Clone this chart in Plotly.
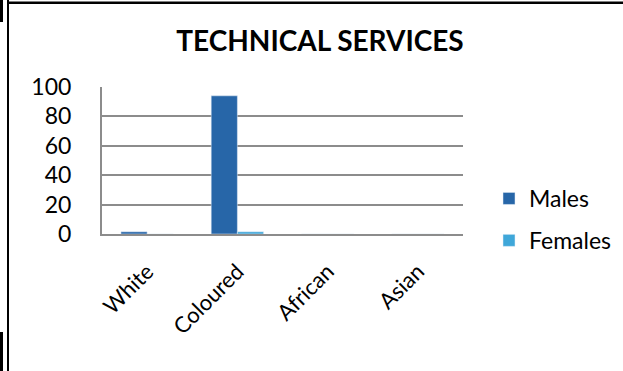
import plotly.graph_objects as go

categories = ["White", "Coloured", "African", "Asian"]
males = [1.5, 94, 0, 0]
females = [0, 1.5, 0, 0]

W, H = 623, 371
L, R, T, B = 102, 463, 87, 234   # plot area in pixels

def px(x):
    return (x - L) / (R - L)

def py(y):
    return (B - y) / (B - T)

font_family = "Lato, 'Open Sans', sans-serif"

fig = go.Figure()
fig.add_trace(go.Bar(name="Males", x=categories, y=males, legendgroup="m",
                     marker=dict(color="#2766A8")))
fig.add_trace(go.Bar(name="Females", x=categories, y=females, legendgroup="f",
                     marker=dict(color="#3FA7D9")))

grid = "#8c8c8c"

# page frame lines
frame = [
    dict(x0=px(7), x1=px(9), y0=py(0), y1=py(371), fillcolor="#000"),
    dict(x0=px(7), x1=px(623), y0=py(1.5), y1=py(4), fillcolor="#000"),
    dict(x0=px(0), x1=px(3), y0=py(0), y1=py(22), fillcolor="#000"),
    dict(x0=px(0), x1=px(3), y0=py(332), y1=py(371), fillcolor="#000"),
]
shapes = []
for f in frame:
    shapes.append(dict(type="rect", xref="paper", yref="paper",
                       line=dict(width=0), layer="above", **f))

fig.update_layout(
    width=W, height=H,
    margin=dict(l=L, r=W - R, t=T, b=H - B, autoexpand=False),
    paper_bgcolor="white", plot_bgcolor="white",
    barmode="group", bargap=0.42, bargroupgap=0,
    title=dict(text="<b>TECHNICAL SERVICES</b>", x=320 / W, xanchor="center",
               y=1 - 41 / H, yanchor="middle",
               font=dict(family=font_family, size=28, color="#000")),
    font=dict(family=font_family, color="#000"),
    xaxis=dict(showline=True, linecolor=grid, linewidth=2, ticks="",
               tickangle=-45, tickfont=dict(size=22), showgrid=False,
               ticklabelstandoff=14),
    yaxis=dict(range=[0, 100], dtick=20, showgrid=True, gridcolor=grid,
               gridwidth=2, showline=True, linecolor=grid, linewidth=2,
               ticks="", ticklabelstandoff=24, tickfont=dict(size=23),
               zeroline=False),
    legend=dict(x=px(489), y=py(177), xanchor="left", yanchor="top",
                font=dict(size=23), traceorder="grouped", tracegroupgap=9,
                itemwidth=30, bgcolor="rgba(0,0,0,0)"),
    shapes=shapes,
)

fig.write_html("out.html")
